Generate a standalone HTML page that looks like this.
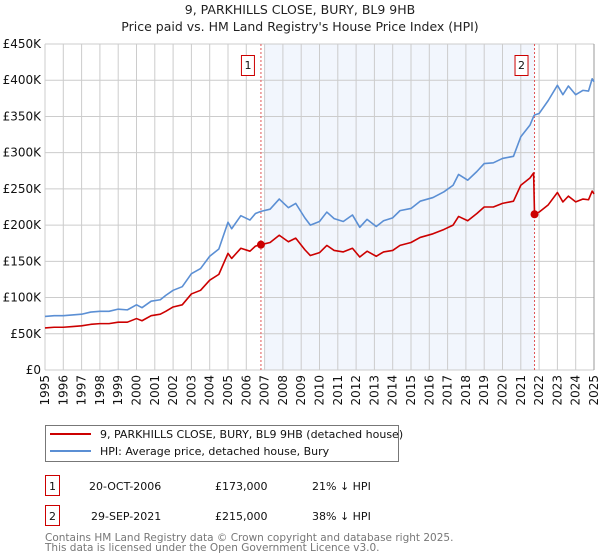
<!DOCTYPE html>
<html><head><meta charset="utf-8"><style>
body{margin:0;background:#fff;}
svg{display:block;font-family:"DejaVu Sans","Liberation Sans",sans-serif;}
</style></head><body>
<svg id="chart" width="600" height="560" viewBox="0 0 600 560" xmlns="http://www.w3.org/2000/svg">
<text x="300" y="14" font-size="12.5" text-anchor="middle" fill="#222">9, PARKHILLS CLOSE, BURY, BL9 9HB</text>
<text x="300" y="31" font-size="12.5" text-anchor="middle" fill="#222">Price paid vs. HM Land Registry's House Price Index (HPI)</text>
<g id="plot"></g>
<g>
<rect x="45.5" y="425.5" width="353" height="36" fill="#fff" stroke="#777"/>
<line x1="50" y1="434" x2="91" y2="434" stroke="#cc0000" stroke-width="2"/>
<text x="100" y="438" font-size="11" fill="#111">9, PARKHILLS CLOSE, BURY, BL9 9HB (detached house)</text>
<line x1="50" y1="451" x2="91" y2="451" stroke="#5b8fd4" stroke-width="2"/>
<text x="100" y="455" font-size="11" fill="#111">HPI: Average price, detached house, Bury</text>
</g>
<g font-size="11" fill="#111">
<rect x="45.5" y="475.5" width="14" height="20" fill="#fff" stroke="#cc0000"/>
<text x="52.5" y="490" text-anchor="middle">1</text>
<text x="89" y="490">20-OCT-2006</text>
<text x="215" y="490">£173,000</text>
<text x="312" y="490">21% ↓ HPI</text>
</g>
<g font-size="11" fill="#111">
<rect x="45.5" y="505.5" width="14" height="20" fill="#fff" stroke="#cc0000"/>
<text x="52.5" y="520" text-anchor="middle">2</text>
<text x="91" y="520">29-SEP-2021</text>
<text x="215" y="520">£215,000</text>
<text x="312" y="520">38% ↓ HPI</text>
</g>
<text x="45" y="541" font-size="10.5" fill="#777">Contains HM Land Registry data © Crown copyright and database right 2025.</text>
<text x="45" y="551" font-size="10.5" fill="#777">This data is licensed under the Open Government Licence v3.0.</text>
</svg>
<script>
const hpiYears=[1995,1995.5,1996,1996.5,1997,1997.5,1998,1998.5,1999,1999.5,2000,2000.3,2000.8,2001.3,2001.6,2002,2002.5,2003,2003.5,2004,2004.5,2005,2005.2,2005.7,2006.2,2006.5,2006.8,2007.3,2007.8,2008.3,2008.7,2009.2,2009.5,2010,2010.4,2010.8,2011.3,2011.8,2012.2,2012.6,2013.1,2013.5,2014,2014.4,2015,2015.5,2016.2,2016.8,2017.3,2017.6,2018.1,2018.6,2019,2019.5,2020,2020.6,2021,2021.5,2021.7,2021.75,2022,2022.5,2023,2023.3,2023.6,2024,2024.4,2024.7,2024.9,2025];
const hpiValues=[74,75,75,76,77,80,81,81,84,83,90,86,95,97,103,110,115,133,140,157,167,204,195,213,207,216,219,222,236,224,230,210,200,205,218,209,205,214,197,208,198,206,210,220,223,233,238,246,255,270,262,274,285,286,292,295,322,338,350,352,354,372,393,380,392,380,386,385,402,398];
const priceValues=[58,59,59,60,61,63,64,64,66,66,71,68,75,77,81,87,90,105,110,124,132,161,154,168,164,171,173,176,186,177,182,166,158,162,172,165,163,168,156,164,157,163,165,172,176,183,188,194,200,212,206,216,225,225,230,233,255,265,272,215,218,228,245,232,240,232,236,235,247,243];
const saleYears=[2006.8,2021.75];
const saleValues=[173,215];
const saleLabels=["1","2"];
const yTicks=[0,50,100,150,200,250,300,350,400,450];
const yTickLabels=["£0","£50K","£100K","£150K","£200K","£250K","£300K","£350K","£400K","£450K"];
const xTicks=[1995,1996,1997,1998,1999,2000,2001,2002,2003,2004,2005,2006,2007,2008,2009,2010,2011,2012,2013,2014,2015,2016,2017,2018,2019,2020,2021,2022,2023,2024,2025];

const X0=45,X1=594,Y0=370,Y1=44;
const x=v=>X0+(v-1995)/30*(X1-X0);
const y=v=>Y0-v/450*(Y0-Y1);
const NS="http://www.w3.org/2000/svg";
const plot=document.getElementById('plot');
function mk(tag,attrs,parent){const e=document.createElementNS(NS,tag);for(const k in attrs)e.setAttribute(k,attrs[k]);(parent||plot).appendChild(e);return e;}

const shade=mk('rect',{x:x(2007),y:Y1,width:x(saleYears[1])-x(2007),height:Y0-Y1,fill:'#f2f6fd'});



yTicks.forEach((t,i)=>{
  const l=mk('line',{x1:X0,x2:X1,y1:y(t),y2:y(t),stroke:'#cccccc','stroke-width':1});
  
  
  const tx=mk('text',{x:X0-4,y:y(t)+4,'font-size':12,'text-anchor':'end',fill:'#111'});
  tx.textContent=yTickLabels[i];
  
  
});
xTicks.forEach(t=>{
  const l=mk('line',{x1:x(t),x2:x(t),y1:Y1,y2:Y0,stroke:'#cccccc','stroke-width':1});
  
  
  const tx=mk('text',{x:0,y:0,'font-size':12,'text-anchor':'end',fill:'#111',transform:`translate(${x(t)+4},${Y0+5}) rotate(-90)`});
  tx.textContent=String(t);
  
  
});
const ax=mk('line',{x1:X1,x2:X1,y1:Y1,y2:Y0,stroke:'#999','stroke-width':1});



saleYears.forEach((s,i)=>{
  const l=mk('line',{x1:x(s),x2:x(s),y1:Y1,y2:Y0,stroke:'#e05555','stroke-width':1,'stroke-dasharray':'2,2'});
  
  
  const r=mk('rect',{x:x(s)-19.5,y:55.5,width:13,height:20,fill:'#fff',stroke:'#cc0000'});
  
  
  const t=mk('text',{x:x(s)-13,y:69,'font-size':11,'text-anchor':'middle',fill:'#111'});
  t.textContent=saleLabels[i];
  
  
});

const hp=mk('polyline',{points:hpiYears.map((v,i)=>x(v)+','+y(hpiValues[i])).join(' '),fill:'none',stroke:'#5b8fd4','stroke-width':1.6,'stroke-linejoin':'round'});


const pp=mk('polyline',{points:hpiYears.map((v,i)=>x(v)+','+y(priceValues[i])).join(' '),fill:'none',stroke:'#cc0000','stroke-width':1.6,'stroke-linejoin':'round'});


saleYears.forEach((s,i)=>{
  const c=mk('circle',{cx:x(s),cy:y(saleValues[i]),r:4,fill:'#cc0000'});
  
  
});
</script>
</body></html>
